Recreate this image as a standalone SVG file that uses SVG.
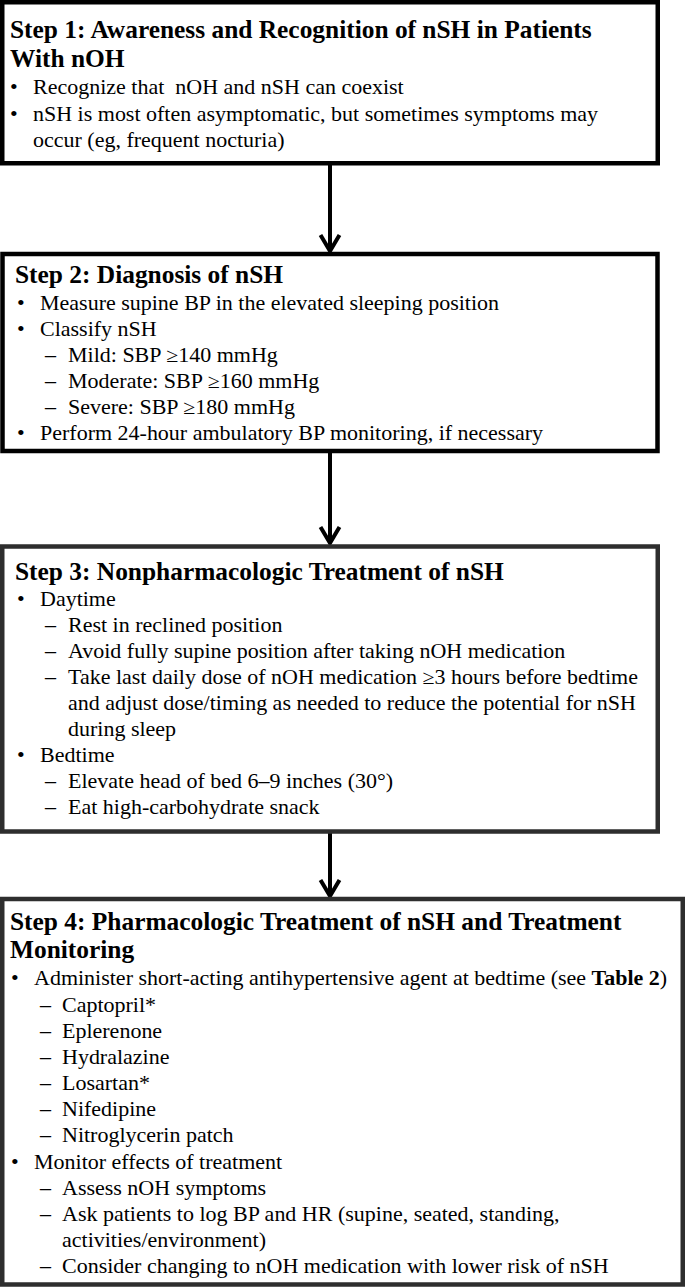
<svg xmlns="http://www.w3.org/2000/svg" width="685" height="1287" viewBox="0 0 685 1287">
<style>
text { font-family: "Liberation Serif", "Times New Roman", serif; fill: #000; white-space: pre; }
.t { font-size: 25.4px; font-weight: bold; }
.b { font-size: 20px; }
.box { fill: #fff; stroke: #000; stroke-width: 4.5; }
.box.g { stroke: #2e2e2e; }
.con { fill: none; stroke: #000; stroke-width: 4; }
</style>
<rect width="685" height="1287" fill="#fff"/>
<g id="connectors">
  <line class="con" x1="330" y1="164" x2="330" y2="250"/>
  <polyline class="con" points="320.5,235 330,251 339.5,235"/>
  <line class="con" x1="330" y1="452" x2="330" y2="542"/>
  <polyline class="con" points="320.5,527 330,543 339.5,527"/>
  <line class="con" x1="330" y1="832" x2="330" y2="895"/>
  <polyline class="con" points="320.5,880 330,896 339.5,880"/>
</g>
<g id="step1">
  <rect class="box" x="2.25" y="2.25" width="655.5" height="161"/>
  <text class="t" x="10" y="37.5">Step 1: Awareness and Recognition of nSH in Patients</text>
  <text class="t" x="10" y="67">With nOH</text>
  <text class="b" transform="translate(10 94) scale(1.1 1)">•</text>
  <text class="b" transform="translate(33 94) scale(1.1 1)">Recognize that  nOH and nSH can coexist</text>
  <text class="b" transform="translate(10 121) scale(1.1 1)">•</text>
  <text class="b" transform="translate(33 121) scale(1.1 1)">nSH is most often asymptomatic, but sometimes symptoms may</text>
  <text class="b" transform="translate(33 147) scale(1.1 1)">occur (eg, frequent nocturia)</text>
</g>
<g id="step2">
  <rect class="box" x="2.5" y="254" width="655" height="197"/>
  <text class="t" x="15" y="283">Step 2: Diagnosis of nSH</text>
  <text class="b" transform="translate(17 310) scale(1.1 1)">•</text>
  <text class="b" transform="translate(40 310) scale(1.1 1)">Measure supine BP in the elevated sleeping position</text>
  <text class="b" transform="translate(17 336) scale(1.1 1)">•</text>
  <text class="b" transform="translate(40 336) scale(1.1 1)">Classify nSH</text>
  <text class="b" transform="translate(45 362) scale(1.1 1)">–</text>
  <text class="b" transform="translate(68 362) scale(1.1 1)">Mild: SBP ≥140 mmHg</text>
  <text class="b" transform="translate(45 388) scale(1.1 1)">–</text>
  <text class="b" transform="translate(68 388) scale(1.1 1)">Moderate: SBP ≥160 mmHg</text>
  <text class="b" transform="translate(45 414) scale(1.1 1)">–</text>
  <text class="b" transform="translate(68 414) scale(1.1 1)">Severe: SBP ≥180 mmHg</text>
  <text class="b" transform="translate(17 440) scale(1.1 1)">•</text>
  <text class="b" transform="translate(40 440) scale(1.1 1)">Perform 24-hour ambulatory BP monitoring, if necessary</text>
</g>
<g id="step3">
  <rect class="box g" x="2.25" y="546.5" width="655.5" height="285"/>
  <text class="t" x="15" y="580">Step 3: Nonpharmacologic Treatment of nSH</text>
  <text class="b" transform="translate(17 606) scale(1.1 1)">•</text>
  <text class="b" transform="translate(40 606) scale(1.1 1)">Daytime</text>
  <text class="b" transform="translate(45 632) scale(1.1 1)">–</text>
  <text class="b" transform="translate(68 632) scale(1.1 1)">Rest in reclined position</text>
  <text class="b" transform="translate(45 658) scale(1.1 1)">–</text>
  <text class="b" transform="translate(68 658) scale(1.1 1)">Avoid fully supine position after taking nOH medication</text>
  <text class="b" transform="translate(45 684) scale(1.1 1)">–</text>
  <text class="b" transform="translate(68 684) scale(1.1 1)">Take last daily dose of nOH medication ≥3 hours before bedtime</text>
  <text class="b" transform="translate(68 710) scale(1.1 1)">and adjust dose/timing as needed to reduce the potential for nSH</text>
  <text class="b" transform="translate(68 736) scale(1.1 1)">during sleep</text>
  <text class="b" transform="translate(17 762) scale(1.1 1)">•</text>
  <text class="b" transform="translate(40 762) scale(1.1 1)">Bedtime</text>
  <text class="b" transform="translate(45 788) scale(1.1 1)">–</text>
  <text class="b" transform="translate(68 788) scale(1.1 1)">Elevate head of bed 6–9 inches (30°)</text>
  <text class="b" transform="translate(45 814) scale(1.1 1)">–</text>
  <text class="b" transform="translate(68 814) scale(1.1 1)">Eat high-carbohydrate snack</text>
</g>
<g id="step4">
  <rect class="box g" x="2.25" y="899" width="680.5" height="385.5"/>
  <text class="t" x="10" y="930">Step 4: Pharmacologic Treatment of nSH and Treatment</text>
  <text class="t" x="10" y="958">Monitoring</text>
  <text class="b" transform="translate(11 985) scale(1.1 1)">•</text>
  <text class="b" transform="translate(34 985) scale(1.1 1)">Administer short-acting antihypertensive agent at bedtime (see <tspan font-weight="bold">Table 2</tspan>)</text>
  <text class="b" transform="translate(40 1012) scale(1.1 1)">–</text>
  <text class="b" transform="translate(62 1012) scale(1.1 1)">Captopril*</text>
  <text class="b" transform="translate(40 1038) scale(1.1 1)">–</text>
  <text class="b" transform="translate(62 1038) scale(1.1 1)">Eplerenone</text>
  <text class="b" transform="translate(40 1064) scale(1.1 1)">–</text>
  <text class="b" transform="translate(62 1064) scale(1.1 1)">Hydralazine</text>
  <text class="b" transform="translate(40 1090) scale(1.1 1)">–</text>
  <text class="b" transform="translate(62 1090) scale(1.1 1)">Losartan*</text>
  <text class="b" transform="translate(40 1116) scale(1.1 1)">–</text>
  <text class="b" transform="translate(62 1116) scale(1.1 1)">Nifedipine</text>
  <text class="b" transform="translate(40 1142) scale(1.1 1)">–</text>
  <text class="b" transform="translate(62 1142) scale(1.1 1)">Nitroglycerin patch</text>
  <text class="b" transform="translate(11 1169) scale(1.1 1)">•</text>
  <text class="b" transform="translate(34 1169) scale(1.1 1)">Monitor effects of treatment</text>
  <text class="b" transform="translate(40 1195) scale(1.1 1)">–</text>
  <text class="b" transform="translate(62 1195) scale(1.1 1)">Assess nOH symptoms</text>
  <text class="b" transform="translate(40 1221) scale(1.1 1)">–</text>
  <text class="b" transform="translate(62 1221) scale(1.1 1)">Ask patients to log BP and HR (supine, seated, standing,</text>
  <text class="b" transform="translate(62 1247) scale(1.1 1)">activities/environment)</text>
  <text class="b" transform="translate(40 1273) scale(1.1 1)">–</text>
  <text class="b" transform="translate(62 1273) scale(1.1 1)">Consider changing to nOH medication with lower risk of nSH</text>
</g>
</svg>
